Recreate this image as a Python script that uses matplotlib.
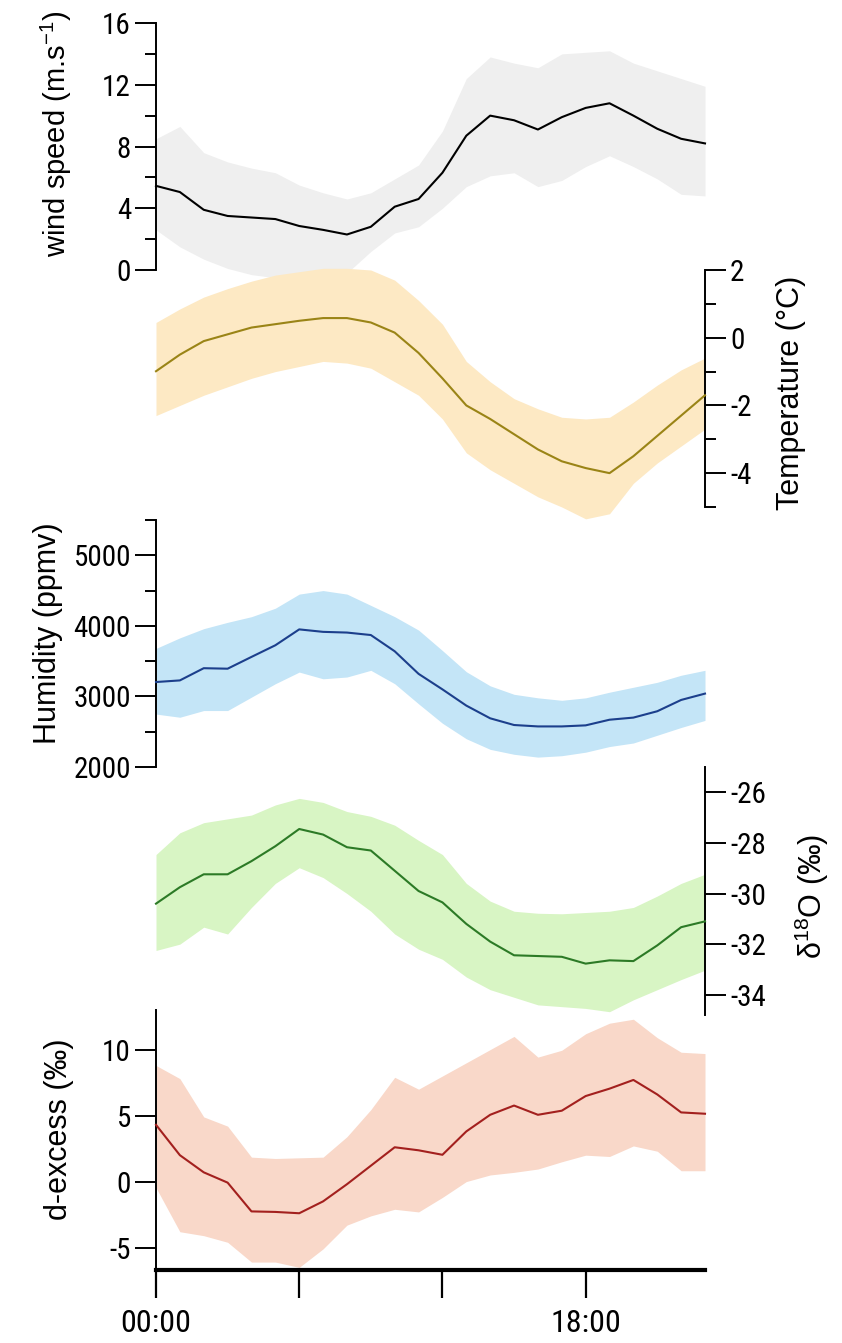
import matplotlib
matplotlib.use('Agg')
import matplotlib.pyplot as plt
from matplotlib import font_manager as fm
from matplotlib.ticker import FixedLocator, FuncFormatter

plt.rcParams['font.family'] = ['Liberation Sans', 'DejaVu Sans']
plt.rcParams['mathtext.fontset'] = 'custom'
plt.rcParams['mathtext.rm'] = 'Liberation Sans'
plt.rcParams['mathtext.it'] = 'Liberation Sans'

hours = list(range(24))

wind_mean = [5.45, 5.05, 3.9, 3.5, 3.4, 3.3, 2.85, 2.6, 2.3, 2.8, 4.1, 4.6,
             6.3, 8.7, 10.0, 9.7, 9.1, 9.9, 10.5, 10.8, 10.0, 9.15, 8.5, 8.2]
wind_hi = [8.5, 9.3, 7.6, 7.0, 6.6, 6.3, 5.5, 5.0, 4.6, 5.0, 5.9, 6.8,
           9.0, 12.4, 13.8, 13.4, 13.1, 14.0, 14.1, 14.2, 13.4, 12.9, 12.4, 11.9]
wind_lo = [2.6, 1.5, 0.7, 0.1, -0.3, -0.5, -0.6, -0.5, -0.2, 1.2, 2.4, 2.8,
           4.0, 5.4, 6.1, 6.3, 5.4, 5.8, 6.7, 7.4, 6.7, 5.9, 4.9, 4.8]

temp_mean = [-0.99, -0.5, -0.1, 0.1, 0.3, 0.4, 0.5, 0.58, 0.58, 0.45, 0.15, -0.45,
             -1.2, -2.0, -2.4, -2.85, -3.3, -3.65, -3.85, -4.0, -3.5, -2.9, -2.3, -1.7]
temp_hi = [0.45, 0.85, 1.2, 1.45, 1.67, 1.85, 1.95, 2.05, 2.05, 2.0, 1.7, 1.1,
           0.4, -0.7, -1.3, -1.8, -2.1, -2.35, -2.4, -2.35, -1.9, -1.4, -0.95, -0.6]
temp_lo = [-2.3, -2.0, -1.7, -1.45, -1.2, -1.0, -0.85, -0.7, -0.75, -0.9, -1.3, -1.7,
           -2.4, -3.4, -3.9, -4.3, -4.7, -5.0, -5.35, -5.2, -4.3, -3.7, -3.2, -2.7]

hum_mean = [3204, 3227, 3400, 3393, 3560, 3725, 3950, 3915, 3905, 3870, 3640, 3320,
            3100, 2870, 2690, 2595, 2575, 2575, 2590, 2670, 2700, 2790, 2950, 3040]
hum_hi = [3680, 3830, 3960, 4050, 4130, 4250, 4450, 4500, 4450, 4290, 4130, 3940,
          3650, 3350, 3150, 3030, 2980, 2945, 2980, 3060, 3130, 3200, 3300, 3370]
hum_lo = [2750, 2705, 2800, 2800, 2990, 3180, 3345, 3250, 3275, 3370, 3180, 2895,
          2620, 2400, 2250, 2180, 2140, 2160, 2210, 2290, 2340, 2450, 2560, 2660]

d18o_mean = [-30.4, -29.75, -29.24, -29.24, -28.72, -28.13, -27.45, -27.67, -28.17, -28.3, -29.1, -29.9,
             -30.35, -31.2, -31.9, -32.44, -32.47, -32.5, -32.77, -32.64, -32.67, -32.05, -31.33, -31.1]
d18o_hi = [-28.46, -27.6, -27.2, -27.05, -26.9, -26.5, -26.24, -26.4, -26.76, -26.95, -27.3, -27.9,
           -28.46, -29.6, -30.3, -30.7, -30.78, -30.8, -30.75, -30.7, -30.55, -30.1, -29.6, -29.24]
d18o_lo = [-32.25, -32.0, -31.33, -31.6, -30.55, -29.6, -28.98, -29.37, -30.0, -30.7, -31.6, -32.2,
           -32.6, -33.3, -33.8, -34.1, -34.4, -34.47, -34.54, -34.67, -34.2, -33.8, -33.4, -33.03]

dex_mean = [4.3, 2.0, 0.7, -0.08, -2.26, -2.3, -2.4, -1.5, -0.2, 1.2, 2.6, 2.37,
            2.03, 3.8, 5.06, 5.76, 5.06, 5.37, 6.48, 7.04, 7.7, 6.6, 5.24, 5.14]
dex_hi = [8.8, 7.8, 4.9, 4.2, 1.85, 1.75, 1.8, 1.85, 3.4, 5.45, 7.9, 7.0,
          8.0, 9.0, 10.0, 11.0, 9.43, 9.95, 11.2, 12.0, 12.3, 10.9, 9.8, 9.7]
dex_lo = [-0.46, -3.8, -4.1, -4.6, -6.1, -6.1, -6.5, -5.1, -3.3, -2.6, -2.1, -2.3,
          -1.2, 0.0, 0.5, 0.7, 0.95, 1.5, 2.0, 1.9, 2.7, 2.3, 0.82, 0.82]

x_ticks = [0, 6, 12, 18]
x_labels = ['00:00', '', '', '18:00']

W, H = 842, 1343
hyphen = FuncFormatter(lambda v, p: ('%g' % v).replace('\u2212', '-'))

# tick labels in the reference use a narrow sans; take one if it is installed
narrow_file = None
for name in ['Liberation Sans Narrow', 'Roboto Condensed', 'Open Sans Condensed']:
    for f in fm.fontManager.ttflist:
        if f.name == name and f.style == 'normal' and f.weight in (400, 'normal', 'regular'):
            narrow_file = f.fname
            break
    if narrow_file is not None:
        break
if narrow_file is not None:
    tick_font = fm.FontProperties(fname=narrow_file, size=21)
    xtick_font = fm.FontProperties(fname=narrow_file, size=23)
else:
    tick_font = fm.FontProperties(family='Liberation Sans', size=17)
    xtick_font = fm.FontProperties(family='Liberation Sans', size=19)

fig = plt.figure(figsize=(W / 100, H / 100), dpi=100)


def make_axes(top_px, bottom_px):
    # axes placed in figure pixels, x from 0h to 23h
    ax = fig.add_axes([156 / W, 1 - bottom_px / H, 549 / W, (bottom_px - top_px) / H])
    ax.patch.set_alpha(0)
    for s in ax.spines.values():
        s.set_visible(False)
    ax.set_xlim(0, 23)
    ax.set_xticks([])
    return ax


def panel(ax, mean, lo, hi, line_col, band_col, side, ylim, major, minor,
          label, label_x, label_y=0.5, label_size=21):
    ax.fill_between(hours, lo, hi, color=band_col, lw=0, clip_on=False, zorder=1)
    ax.plot(hours, mean, color=line_col, lw=1.5, clip_on=False, zorder=3)
    ax.set_ylim(*ylim)
    ax.spines[side].set_visible(True)
    ax.spines[side].set_linewidth(1.4)
    ax.spines[side].set_bounds(*ylim)
    ax.yaxis.set_ticks_position(side)
    ax.yaxis.set_major_locator(FixedLocator(major))
    ax.yaxis.set_minor_locator(FixedLocator(minor))
    ax.yaxis.set_major_formatter(hyphen)
    ax.tick_params(axis='y', which='major', length=15, width=1.4, pad=3)
    ax.tick_params(axis='y', which='minor', length=8, width=1.4)
    for t in ax.get_yticklabels():
        t.set_fontproperties(tick_font)
    if side == 'right':
        ax.yaxis.set_label_position('right')
    ax.set_ylabel(label, fontsize=label_size)
    ax.yaxis.set_label_coords(label_x, label_y)


# wind speed
ax1 = make_axes(23, 270)
panel(ax1, wind_mean, wind_lo, wind_hi, 'black', '#efefef', 'left', (0, 16),
      [0, 4, 8, 12, 16], [2, 6, 10, 14], 'wind speed (m.s$^{\\mathrm{-1}}$)', -0.15, 0.55)

# temperature
ax2 = make_axes(270, 507)
panel(ax2, temp_mean, temp_lo, temp_hi, '#9a8416', '#fde9c4', 'right', (-5, 2),
      [-4, -2, 0, 2], [-5, -3, -1, 1], 'Temperature (\u00b0C)', 1.13, 0.48, 22)

# humidity
ax3 = make_axes(520, 767)
panel(ax3, hum_mean, hum_lo, hum_hi, '#1c3f8c', '#c4e5f7', 'left', (2000, 5500),
      [2000, 3000, 4000, 5000], [2500, 3500, 4500, 5500], 'Humidity (ppmv)', -0.17, 0.54, 22)

# d18O
ax4 = make_axes(767, 1015)
panel(ax4, d18o_mean, d18o_lo, d18o_hi, '#2c7a26', '#d8f5c4', 'right', (-34.8, -25),
      [-34, -32, -30, -28, -26], [], '\u03b4$^{18}$O (\u2030)', 1.16, 0.48, 22)

# d-excess
ax5 = make_axes(1010, 1270)
panel(ax5, dex_mean, dex_lo, dex_hi, '#a3201e', '#f9d8c9', 'left', (-6.7, 13),
      [-5, 0, 5, 10], [], 'd-excess (\u2030)', -0.15, 0.54, 22)
ax5.spines['bottom'].set_visible(True)
ax5.spines['bottom'].set_linewidth(3)
ax5.set_xticks(x_ticks)
ax5.set_xticklabels(x_labels)
ax5.tick_params(axis='x', length=20, width=1.6, pad=8)
for t in ax5.get_xticklabels():
    t.set_fontproperties(xtick_font)

fig.savefig('out.png', dpi=100)
